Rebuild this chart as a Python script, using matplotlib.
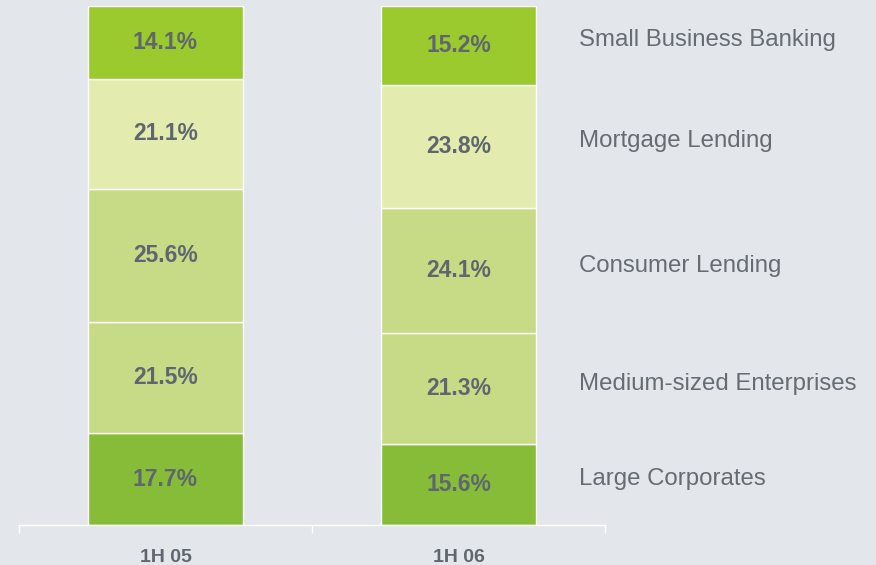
import matplotlib
matplotlib.use('Agg')
import matplotlib.pyplot as plt

periods = ['1H 05', '1H 06']
segments = ['Large Corporates', 'Medium-sized Enterprises', 'Consumer Lending',
            'Mortgage Lending', 'Small Business Banking']
share_1h05 = [17.7, 21.5, 25.6, 21.1, 14.1]
share_1h06 = [15.6, 21.3, 24.1, 23.8, 15.2]

colors = ['#86bc37', '#c7da85', '#c7da85', '#e3ecae', '#9aca2e']
bg = '#e3e6eb'
txt = '#5f6670'

plt.rcParams['font.family'] = ['Liberation Sans', 'DejaVu Sans']

fig = plt.figure(figsize=(8.76, 5.65), dpi=100, facecolor=bg)
ax = fig.add_axes([19/876, 40/565, 586/876, 519/565])
ax.set_facecolor(bg)

data = [share_1h05, share_1h06]
for i, vals in enumerate(data):
    bottom = 0
    for v, c in zip(vals, colors):
        ax.bar(i, v, bottom=bottom, width=0.53, color=c, edgecolor='white',
               linewidth=1)
        ax.text(i, bottom + v / 2, '{:.1f}%'.format(v), ha='center',
                va='center', fontsize=16.5, fontweight='bold', color=txt)
        bottom += v

# segment names beside the second bar
bottom = 0
for v, name in zip(share_1h06, segments):
    ax.text(1.411, bottom + v / 2 + 1, name, ha='left', va='center',
            fontsize=17.3, color='#656c73', clip_on=False)
    bottom += v

ax.set_xlim(-0.5, 1.5)
ax.set_ylim(0, 100)
ax.set_yticks([])
ax.set_xticks([-0.5, 0.5, 1.5])
ax.set_xticklabels([])
ax.tick_params(axis='x', direction='out', length=6, width=1, color='white')
for i, p in enumerate(periods):
    ax.text(i, -6.2, p, ha='center', va='center', fontsize=14,
            fontweight='bold', color=txt, clip_on=False)
for s in ['top', 'left', 'right']:
    ax.spines[s].set_visible(False)
ax.spines['bottom'].set_color('white')
ax.spines['bottom'].set_linewidth(1)

fig.savefig('out.png', dpi=100, facecolor=bg)
